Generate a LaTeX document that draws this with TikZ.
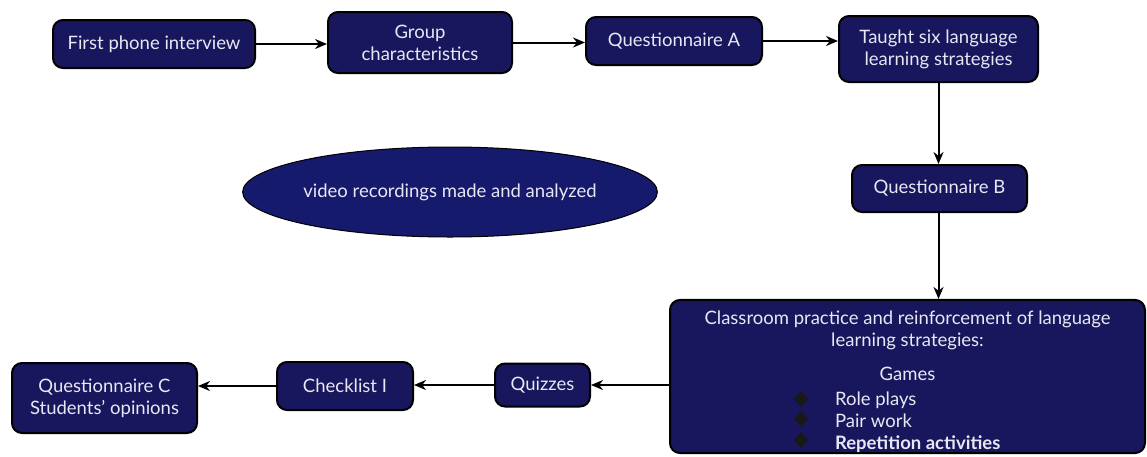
\documentclass[tikz,border=0pt]{standalone}
\usepackage{fontspec}
\setmainfont{Lato}
\usetikzlibrary{arrows.meta,shapes.geometric}
\definecolor{navy}{RGB}{24,22,92}
\definecolor{navyB}{RGB}{22,26,108}
\definecolor{txt}{RGB}{232,232,244}
\begin{document}
\begin{tikzpicture}[x=1pt,y=-1pt,
  box/.style={draw=black, line width=2pt, fill=navy, rounded corners=10pt, text=txt,
    font=\fontsize{18.5}{22}\selectfont, align=center, inner sep=0pt},
  arr/.style={-{Stealth[length=12pt,width=10pt]}, line width=2pt, black},
  bullet/.style={fill=black!90, draw=none}]
\useasboundingbox[fill=white] (0,0) rectangle (1147,456);
\node[box, minimum width=202pt, minimum height=48pt] (fpi) at (154,44) {First phone interview};
\node[box, minimum width=184pt, minimum height=61pt] (gc) at (420,42.5) {Group\\characteristics};
\node[box, minimum width=176pt, minimum height=48pt] (qa) at (674,41) {Questionnaire A};
\node[box, minimum width=199pt, minimum height=66pt] (ts) at (938.5,49) {Taught six language\\learning strategies};
\node[box, minimum width=175pt, minimum height=47pt] (qb) at (939.5,188.5) {Questionnaire B};
\node[ellipse, draw=black, line width=1pt, fill=navyB, text=txt, font=\fontsize{18.5}{22}\selectfont,
  minimum width=410pt, minimum height=90pt, inner sep=0pt] (vid) at (450,192) {video recordings made and analyzed};
\node[box, minimum width=475pt, minimum height=153pt, font=\fontsize{18.5}{22}\selectfont] (cp) at (907.5,376.5)
  {\rule{0pt}{6pt}\\[-3pt]Classroom practice and reinforcement of language\\
   learning strategies:\\[12pt]
   Games\\[3pt]
   \makebox[145pt][l]{Role plays}\\
   \makebox[145pt][l]{Pair work}\\
   \makebox[145pt][l]{\bfseries Repetition activities}};
\node[box, minimum width=95pt, minimum height=43pt] (qz) at (542.5,385) {Quizzes};
\node[box, minimum width=136pt, minimum height=48pt] (cl) at (345,386) {Checklist I};
\node[box, minimum width=185pt, minimum height=70pt] (qc) at (104.5,398) {Questionnaire C\\Students' opinions};
% bullets
\fill[bullet] (801,391) -- (808,399) -- (801,407) -- (794,399) -- cycle;
\fill[bullet] (801,411) -- (808,419) -- (801,427) -- (794,419) -- cycle;
\fill[bullet] (801,432) -- (808,440) -- (801,448) -- (794,440) -- cycle;
% connectors
\draw[arr] (fpi.east) -- (fpi.east -| gc.west);
\draw[arr] (gc.east) -- (gc.east -| qa.west);
\draw[arr] (qa.east) -- (qa.east -| ts.west);
\draw[arr] (ts.south) -- (ts.south |- qb.north);
\draw[arr] (qb.south -| ts.south) -- (cp.north -| ts.south);
\draw[arr] (cp.west |- qz.east) -- (qz.east);
\draw[arr] (qz.west) -- (qz.west -| cl.east);
\draw[arr] (cl.west) -- (cl.west -| qc.east);
\end{tikzpicture}
\end{document}
